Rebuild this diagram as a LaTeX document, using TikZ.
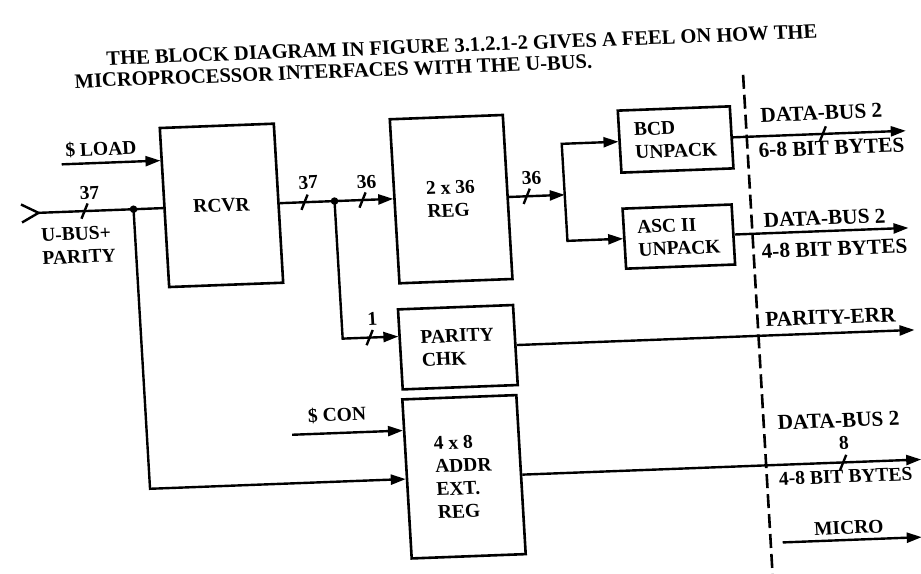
\documentclass[tikz,border=0pt]{standalone}
\usepackage{fontspec}
\setmainfont{Liberation Serif}
\usetikzlibrary{arrows.meta}
\newcommand\dgfont{\fontsize{19.5}{23}\selectfont\bfseries}
\newcommand\widefont{\fontsize{21.3}{23}\selectfont\bfseries}
\newcommand\ttfont{\fontsize{20.5}{21.5}\selectfont\bfseries}
\begin{document}
\begin{tikzpicture}[x=1pt,y=-1pt,
  box/.style={draw, line width=2.6pt, rectangle, inner sep=0pt, align=left, transform shape, font=\dgfont},
  lab/.style={inner sep=0pt, transform shape, font=\dgfont},
  wlab/.style={inner sep=0pt, transform shape, font=\widefont},
  ttl/.style={inner sep=0pt, transform shape, font=\ttfont, align=left},
  wire/.style={line width=2.4pt},
  arr/.style={line width=2.4pt, -{Triangle[length=15pt,width=10pt]}},
  dashline/.style={line width=2.6pt, dash pattern=on 14pt off 6pt},
  dot/.style={fill=black}]
\fill[white] (0,0) rectangle (921,573);
\useasboundingbox (0,0) rectangle (921,573);
\begin{scope}[cm={1,0.038,-0.059,1,(-17.11pt,-17.48pt)}]
% title
\node[ttl, anchor=west] (title) at (87.7,56.5) {\hspace*{33pt}THE BLOCK DIAGRAM IN FIGURE 3.1.2.1-2 GIVES A FEEL ON HOW THE\\MICROPROCESSOR INTERFACES WITH THE U-BUS.};
% boxes
\node[box, minimum width=114pt, minimum height=159pt] (rcvr) at (227,196.5) {RCVR};
\node[box, minimum width=113pt, minimum height=164pt] (reg) at (456.5,199) {2 x 36\\REG};
\node[box, minimum width=112pt, minimum height=62pt] (bcd) at (684,148) {BCD\\UNPACK};
\node[box, minimum width=109pt, minimum height=60pt] (asc) at (681.5,245) {ASC II\\UNPACK};
\node[box, minimum width=115pt, minimum height=80pt] (par) at (454.5,347) {PARITY\\CHK};
\node[box, minimum width=114pt, minimum height=159pt] (addr) at (453,476.5) {4 x 8\\ADDR\\EXT.\\REG};
% labels
\node[lab] (l37a) at (96,179) {37};
\node[lab, align=left] (ubus) at (82,231) {U-BUS+\\PARITY};
\node[lab] (load) at (110,136) {\$ LOAD};
\node[lab] (l37b) at (315,177) {37};
\node[lab] (l36a) at (373,178.5) {36};
\node[lab] (l36b) at (538,181) {36};
\node[lab] (l1) at (371,315) {1};
\node[wlab] (db1) at (831,127) {DATA-BUS 2};
\node[wlab] (b1) at (839,162) {6-8 BIT BYTES};
\node[wlab] (db2) at (828,232) {DATA-BUS 2};
\node[wlab] (b2) at (836,263) {4-8 BIT BYTES};
\node[wlab] (perr) at (828,331) {PARITY-ERR};
\node[lab] (con) at (330,410) {\$ CON};
\node[wlab] (db3) at (830,434.5) {DATA-BUS 2};
\node[lab] (l8) at (834,457.5) {8};
\node[lab, anchor=west] (b3) at (767,490.5) {4-8 BIT BYTES};
\node[lab] (micro) at (834,541.6) {MICRO};
% coordinates
\coordinate (in) at (44,197);
\coordinate (j1) at (139,197);
\coordinate (j2) at (340,196.5);
\coordinate (ls) at (70,149.5);
\coordinate (pc) at (340,334);
\coordinate (br) at (570,199);
\coordinate (c1) at (284,428);
\coordinate (o1) at (914,148);
\coordinate (o2) at (911,245);
\coordinate (o3) at (911,347);
\coordinate (o4) at (910,476.5);
\coordinate (m1) at (767,554);
\coordinate (m2) at (906,554);
\coordinate (dtop) at (755,86);
\coordinate (dbot) at (755,600);
\coordinate (tk1) at (90,197);
\coordinate (tk2) at (310,196.5);
\coordinate (tk3) at (368,196.5);
\coordinate (tk4) at (532,199);
\coordinate (tk5) at (367,334);
\coordinate (tk6) at (831,148);
\coordinate (tk7) at (832,476.5);
% connectors
\draw[wire] ([shift={(-17,-9)}]in) -- (in) -- ([shift={(-17,9)}]in);
\draw[wire] (in) -- (in -| rcvr.west);
\draw[arr] (j1) |- (addr.west);
\draw[arr] (ls) -- (ls -| rcvr.west);
\draw[arr] (rcvr.east) -- (reg.west |- rcvr.east);
\draw[arr] (j2) -- (pc) -- (pc -| par.west);
\draw[arr] (reg.east) -- (br);
\draw[arr] (br) |- (bcd.west);
\draw[arr] (br) |- (asc.west);
\draw[arr] (bcd.east) -- (o1);
\draw[arr] (asc.east) -- (o2);
\draw[arr] (par.east) -- (o3);
\draw[arr] (addr.east) -- (o4);
\draw[arr] (m1) -- (m2);
\draw[arr] (c1) -- (c1 -| addr.west);
\draw[dashline] (dtop) -- (dbot);
\fill[dot] (j1) circle (3.8);
\fill[dot] (j2) circle (3.8);
\foreach \t in {tk1,tk2,tk3,tk4,tk5,tk6,tk7}
  \draw[wire] ([shift={(-3.5,7.5)}]\t) -- ([shift={(3.5,-7.5)}]\t);
\end{scope}
\end{tikzpicture}
\end{document}
